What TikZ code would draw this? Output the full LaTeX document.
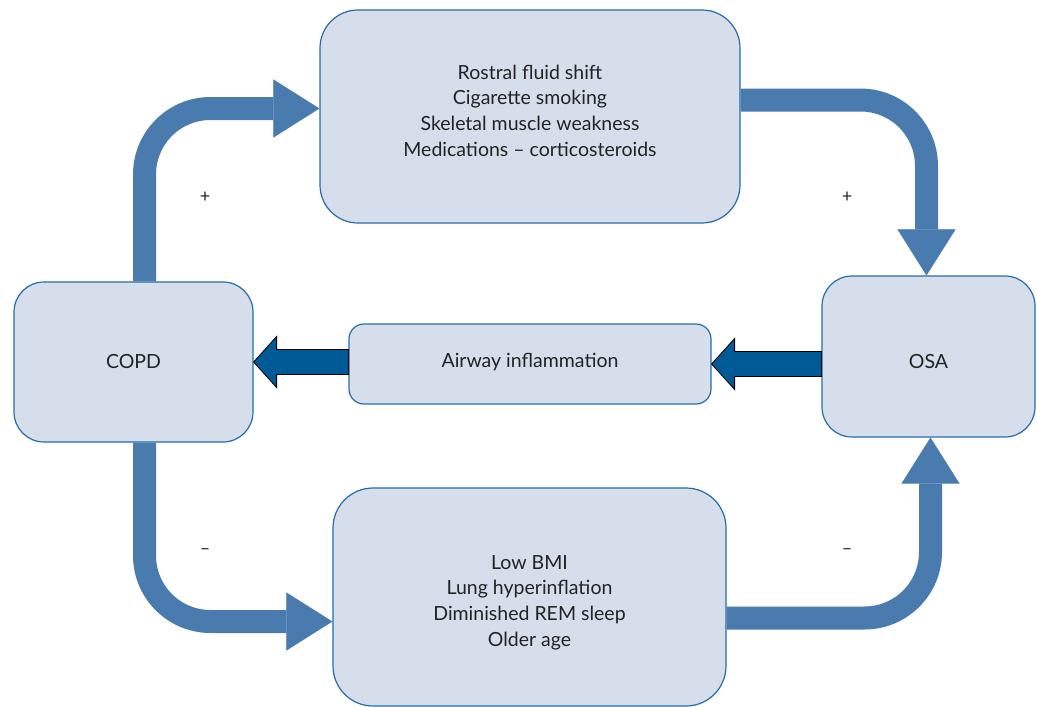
\documentclass[tikz,border=0pt]{standalone}
\usepackage{fontspec}
\setmainfont{Lato}
\usetikzlibrary{arrows.meta, calc}
\definecolor{cpfill}{RGB}{214,222,235}
\definecolor{cpline}{RGB}{38,108,168}
\definecolor{cpbend}{RGB}{74,123,174}
\definecolor{cpdark}{RGB}{0,90,150}
\definecolor{cptext}{RGB}{35,35,35}

\begin{document}
\begin{tikzpicture}[
      x=1pt, y=-1pt,
      font=\fontsize{19.5}{25.7}\selectfont, text=cptext,
      box/.style={rectangle, rounded corners=30pt, draw=cpline, line width=1.2pt,
        fill=cpfill, align=center, text centered},
      boxtext/.style={align=center, text=cptext},
      bendarrow/.style={draw=cpbend, line width=23pt, rounded corners=66pt,
        -{Triangle[length=46pt, width=58pt, line width=0.1pt]}},
      flatarrow/.style={draw=black, line width=0.8pt, fill=cpdark},
      sign/.style={font=\fontsize{18}{18}\selectfont}
    ]
      \useasboundingbox (0,0) rectangle (1037,707);

      % Boxes
      \node[box, minimum width=239pt, minimum height=160pt] (copd) at (133.5,362) {COPD};
      \node[box, minimum width=213pt, minimum height=161pt,
        label={[boxtext, yshift=-5pt]center:OSA}] (osa) at (928.5,356.5) {};
      \node[box, rounded corners=15pt, minimum width=362pt, minimum height=80pt,
        label={[boxtext, yshift=2pt]center:Airway inflammation}] (airway) at (530,364) {};
      \node[box, rounded corners=38pt, minimum width=420pt, minimum height=213pt,
        label={[boxtext, yshift=6pt]center:Rostral fluid shift\\Cigarette smoking\\Skeletal muscle weakness\\Medications – corticosteroids}] (risks) at (530,116.5) {};
      \node[box, rounded corners=40pt, minimum width=393pt, minimum height=218pt,
        label={[boxtext, yshift=-5.5pt]center:Low BMI\\Lung hyperinflation\\Diminished REM sleep\\Older age}] (protect) at (529.5,597) {};

      % Bent connections
      \draw[bendarrow] ([xshift=11pt]copd.north) |- ([yshift=8pt]risks.west);
      \draw[bendarrow] ([yshift=16.5pt]risks.east) -| ([xshift=-2pt]osa.north);
      \draw[bendarrow] ([xshift=11pt]copd.south) |- ([yshift=-24.5pt]protect.west);
      \draw[bendarrow] ([yshift=-21pt]protect.east) -| ([xshift=2pt]osa.south);

      % Straight connections
      \draw[flatarrow] (airway.east) -- ++(23,-25.5) -- ++(0,13) coordinate (r1)
        -- (r1 -| osa.west) -- ++(0,25) coordinate (r2) -- (r2 -| r1) -- ++(0,13) -- cycle;
      \draw[flatarrow] (copd.east) -- ++(23,-25.5) -- ++(0,13) coordinate (l1)
        -- (l1 -| airway.west) -- ++(0,25) coordinate (l2) -- (l2 -| l1) -- ++(0,13) -- cycle;

      % Signs
      \node[sign] (plusl) at (205,197) {+};
      \node[sign] (plusr) at (847,197) {+};
      \node[sign] (minusl) at (205,552) {–};
      \node[sign] (minusr) at (847,552) {–};
    \end{tikzpicture}
\end{document}
